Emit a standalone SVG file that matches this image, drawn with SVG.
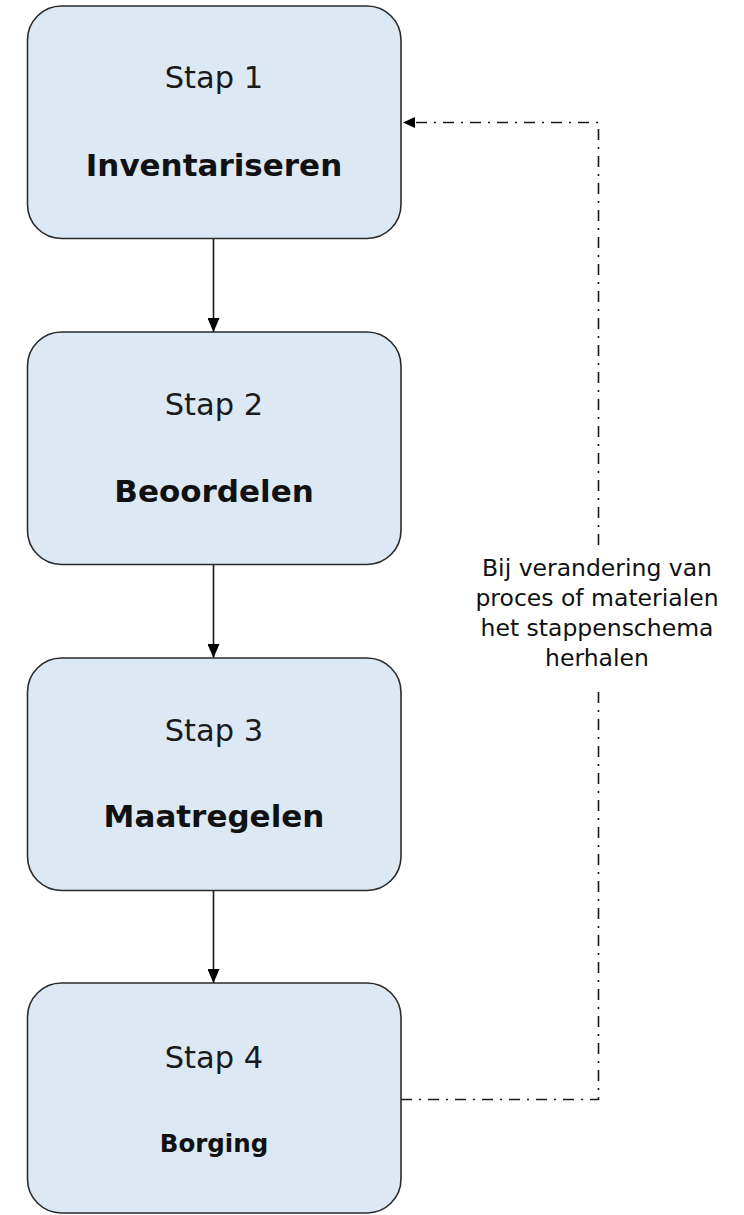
<svg xmlns="http://www.w3.org/2000/svg" width="744" height="1215" viewBox="0 0 744 1215">
<style>
.box{fill:#dce9f5;stroke:#2b2b2b;stroke-width:1.6}
.stap{font-family:"DejaVu Sans",Verdana,sans-serif;font-size:30.5px;fill:#1a1a1a;text-anchor:middle}
.name{font-family:"DejaVu Sans",Verdana,sans-serif;font-size:31px;font-weight:bold;fill:#111;text-anchor:middle}
.small{font-size:24.5px}
.lbl{font-family:"DejaVu Sans",Verdana,sans-serif;font-size:23.5px;fill:#111;text-anchor:middle}
.flow{stroke:#1a1a1a;stroke-width:1.6;fill:none}
.loop{stroke:#1a1a1a;stroke-width:1.6;fill:none;stroke-dasharray:11 7 2 7}
</style>
<defs>
<marker id="ah" viewBox="0 0 14 12" refX="14" refY="6" markerWidth="14" markerHeight="12" markerUnits="userSpaceOnUse" orient="auto">
<path d="M0,0 L14,6 L0,12 Z" fill="#000"/>
</marker>
<marker id="ah2" viewBox="0 0 12 11" refX="12" refY="5.5" markerWidth="12" markerHeight="11" markerUnits="userSpaceOnUse" orient="auto">
<path d="M0,0 L12,5.5 L0,11 Z" fill="#000"/>
</marker>
</defs>
<g id="connectors">
<line class="flow" x1="213.5" y1="239" x2="213.5" y2="332" marker-end="url(#ah)"/>
<line class="flow" x1="213.5" y1="565" x2="213.5" y2="658" marker-end="url(#ah)"/>
<line class="flow" x1="213.5" y1="890" x2="213.5" y2="983" marker-end="url(#ah)"/>
<path class="loop" d="M401,1099.5 H598.5 V690"/>
<path class="loop" d="M598.5,545 V122.5 H403" marker-end="url(#ah2)"/>
<g id="loop-label" class="lbl">
<text x="597" y="576">Bij verandering van</text>
<text x="597" y="606">proces of materialen</text>
<text x="597" y="636">het stappenschema</text>
<text x="597" y="666">herhalen</text>
</g>
</g>
<g id="stap1">
<rect class="box" x="27.5" y="6" width="373.5" height="232.5" rx="34" ry="34"/>
<text class="stap" x="214" y="88">Stap 1</text>
<text class="name" x="214" y="176">Inventariseren</text>
</g>
<g id="stap2">
<rect class="box" x="27.5" y="332" width="373.5" height="232.5" rx="34" ry="34"/>
<text class="stap" x="214" y="415">Stap 2</text>
<text class="name" x="214" y="502">Beoordelen</text>
</g>
<g id="stap3">
<rect class="box" x="27.5" y="658" width="373.5" height="232.5" rx="34" ry="34"/>
<text class="stap" x="214" y="741">Stap 3</text>
<text class="name" x="214" y="827">Maatregelen</text>
</g>
<g id="stap4">
<rect class="box" x="27.5" y="983" width="373.5" height="230" rx="34" ry="34"/>
<text class="stap" x="214" y="1068">Stap 4</text>
<text class="name small" x="214" y="1152">Borging</text>
</g>
</svg>
